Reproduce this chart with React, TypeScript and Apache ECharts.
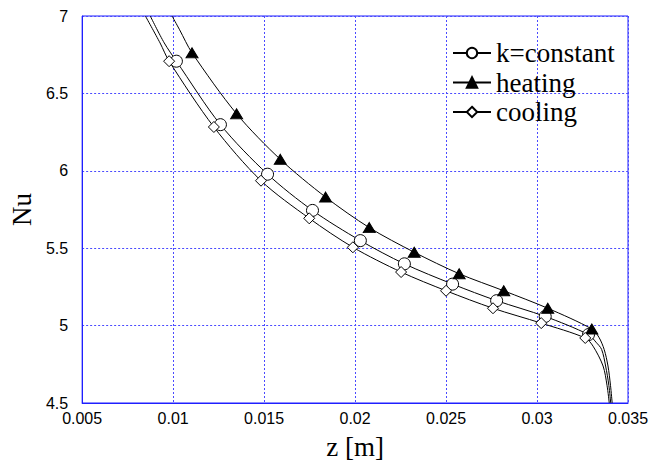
import React, { useEffect, useRef } from "react";
import * as echarts from "echarts";

// Tick values
const xTicks = { min: 0.005, max: 0.035, interval: 0.005 };
const yTicks = { min: 4.5, max: 7, interval: 0.5 };

// k=constant: traced curve points (no marker) and marker points
const constantTraceTop: number[][] = [[0.008744, 7.0], [0.009512, 6.826]];
const constantMarks: number[][] = [
  [0.01018, 6.708], [0.0126, 6.298], [0.01519, 5.978], [0.01766, 5.744], [0.02029, 5.549],
  [0.02271, 5.399], [0.02536, 5.268], [0.02778, 5.161], [0.03045, 5.059], [0.03283, 4.942],
];
const constantTraceEnd: number[][] = [[0.03324, 4.893], [0.03355, 4.846], [0.03377, 4.739], [0.03395, 4.612], [0.03405, 4.5]];

// heating
const heatingTraceTop: number[][] = [[0.009942, 7.0], [0.010356, 6.911]];
const heatingMarks: number[][] = [
  [0.01104, 6.762], [0.01349, 6.368], [0.01589, 6.074], [0.01838, 5.83], [0.02078, 5.633],
  [0.02325, 5.474], [0.02572, 5.335], [0.02817, 5.225], [0.03059, 5.112], [0.03301, 4.978],
];
const heatingTraceEnd: number[][] = [[0.0334, 4.925], [0.03369, 4.846], [0.0339, 4.739], [0.03404, 4.612], [0.03413, 4.5]];

// cooling
const coolingTraceTop: number[][] = [[0.008476, 7.0], [0.009282, 6.826]];
const coolingMarks: number[][] = [
  [0.00978, 6.708], [0.01224, 6.283], [0.01483, 5.936], [0.01748, 5.693], [0.01988, 5.506],
  [0.02253, 5.346], [0.025, 5.225], [0.02758, 5.112], [0.03023, 5.016], [0.03265, 4.92],
];
const coolingTraceEnd: number[][] = [[0.03308, 4.867], [0.03363, 4.739], [0.03385, 4.612], [0.03397, 4.5]];

function buildData(top: number[][], marks: number[][], end: number[][]) {
  const plain = (p: number[]) => ({ value: p, symbol: "none" });
  return [...top.map(plain), ...marks.map((p) => ({ value: p })), ...end.map(plain)];
}

const serif = "'Liberation Serif', 'Times New Roman', serif";
const sans = "'Liberation Sans', Arial, sans-serif";
const blue = "#1f1fff";
const gridBlue = "#4a4aff";

export default function App() {
  const ref = useRef<HTMLDivElement>(null);
  useEffect(() => {
    if (!ref.current) return;
    const chart = echarts.init(ref.current, null, { renderer: "svg" });
    const lineCommon = {
      type: "line" as const,
      smooth: 0.3,
      showAllSymbol: true,
      lineStyle: { color: "#000", width: 1 },
      emphasis: { disabled: true },
      z: 3,
    };
    chart.setOption({
      animation: false,
      backgroundColor: "#fff",
      grid: {
        left: 70,
        right: 34,
        top: 16,
        bottom: 57,
        show: true,
        borderColor: blue,
        borderWidth: 1,
        backgroundColor: "transparent",
      },
      legend: {
        orient: "vertical",
        left: 452,
        top: 39,
        padding: 0,
        itemWidth: 38,
        itemHeight: 13,
        itemGap: 1.5,
        selectedMode: false,
        textStyle: { fontFamily: serif, fontSize: 27, color: "#000", lineHeight: 28 },
        data: ["k=constant", "heating", "cooling"],
      },
      xAxis: {
        type: "value",
        min: xTicks.min,
        max: xTicks.max,
        interval: xTicks.interval,
        name: "z [m]",
        nameLocation: "middle",
        nameGap: 30,
        nameTextStyle: { fontFamily: serif, fontSize: 27, color: "#000" },
        axisLine: { show: true, lineStyle: { color: blue, width: 1 } },
        axisTick: { show: false },
        axisLabel: { fontFamily: sans, fontSize: 16, color: "#000", margin: 7 },
        splitLine: { show: true, lineStyle: { color: gridBlue, type: [2, 2], width: 1 } },
      },
      yAxis: {
        type: "value",
        min: yTicks.min,
        max: yTicks.max,
        interval: yTicks.interval,
        name: "Nu",
        nameLocation: "middle",
        nameGap: 22,
        nameTextStyle: { fontFamily: serif, fontSize: 27, color: "#000" },
        axisLine: { show: true, lineStyle: { color: blue, width: 1 } },
        axisTick: { show: false },
        axisLabel: { fontFamily: sans, fontSize: 16, color: "#000", margin: 14 },
        splitLine: { show: true, lineStyle: { color: gridBlue, type: [2, 2], width: 1 } },
      },
      series: [
        {
          ...lineCommon,
          name: "k=constant",
          symbol: "circle",
          symbolSize: 12,
          itemStyle: { color: "#fff", borderColor: "#000", borderWidth: 1 },
          data: buildData(constantTraceTop, constantMarks, constantTraceEnd),
        },
        {
          ...lineCommon,
          name: "heating",
          symbol: "triangle",
          symbolSize: [12, 10],
          itemStyle: { color: "#000", borderColor: "#000", borderWidth: 1 },
          data: buildData(heatingTraceTop, heatingMarks, heatingTraceEnd),
        },
        {
          ...lineCommon,
          name: "cooling",
          symbol: "diamond",
          symbolSize: 11,
          itemStyle: { color: "#fff", borderColor: "#000", borderWidth: 1 },
          data: buildData(coolingTraceTop, coolingMarks, coolingTraceEnd),
        },
      ],
    });
    return () => chart.dispose();
  }, []);
  return (
    <div
      ref={ref}
      style={{ position: "fixed", left: 0, top: 0, width: 662, height: 465, background: "#fff" }}
    />
  );
}
